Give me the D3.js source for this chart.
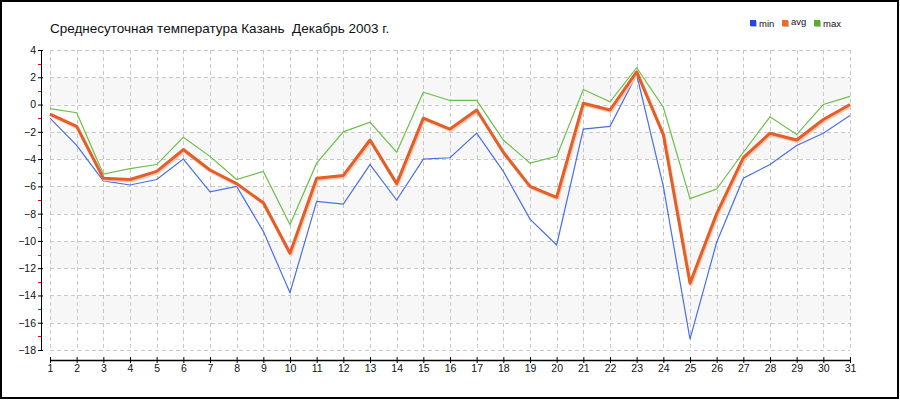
<!DOCTYPE html>
<html><head><meta charset="utf-8">
<script src="https://cdn.jsdelivr.net/npm/d3@7"></script>
<style>body{margin:0;background:#fff}svg{display:block}</style>
</head><body><svg id="c" width="900" height="400"></svg>
<script>
const days = d3.range(1, 32);
const minVals = [-1.0,-3.0,-5.6,-5.9,-5.5,-4.0,-6.4,-6.0,-9.3,-13.8,-7.1,-7.3,-4.4,-7.0,-4.0,-3.9,-2.1,-4.9,-8.4,-10.3,-1.8,-1.6,2.2,-6.0,-17.2,-10.1,-5.4,-4.4,-3.0,-2.1,-0.8];
const avgVals = [-0.7,-1.6,-5.4,-5.5,-4.9,-3.3,-4.8,-5.8,-7.2,-10.9,-5.4,-5.2,-2.6,-5.8,-1.0,-1.8,-0.4,-3.5,-6.0,-6.8,0.1,-0.4,2.4,-2.2,-13.1,-8.0,-3.9,-2.1,-2.6,-1.1,0.0];
const maxVals = [-0.3,-0.6,-5.1,-4.7,-4.4,-2.4,-3.8,-5.5,-4.9,-8.8,-4.3,-2.0,-1.3,-3.5,0.9,0.3,0.3,-2.6,-4.3,-3.8,1.1,0.2,2.7,-0.2,-6.9,-6.2,-3.5,-0.9,-2.2,0.0,0.6];
const yTicks = [4,2,0,-2,-4,-6,-8,-10,-12,-14,-16,-18];
const yMinorTicks = [3,1,-1,-3,-5,-7,-9,-11,-13,-15,-17];
const title = "Среднесуточная температура Казань  Декабрь 2003 г.";
const seriesNames = ["min","avg","max"];
const legendColors = ["#2348e0","#ee6a2c","#5aad2a"];

const svg = d3.select("#c");
const x = d3.scaleLinear().domain([1,31]).range([50,850]);
const y = d3.scaleLinear().domain([-18,4]).range([350,50]);

// border
svg.append("rect").attr("x",1).attr("y",1).attr("width",897).attr("height",397)
  .attr("fill","#fff").attr("stroke","#000").attr("stroke-width",2);

// bands
const bands = [[0,2],[-4,-2],[-8,-6],[-12,-10],[-16,-14]];
svg.append("g").selectAll("rect").data(bands).join("rect")
  .attr("x",x(1)).attr("width",x(31)-x(1))
  .attr("y",d=>y(d[1])).attr("height",d=>y(d[0])-y(d[1]))
  .attr("fill","#f7f7f7");

// grid
const grid = svg.append("g").attr("stroke","#c8c8c8").attr("stroke-dasharray","4,3").attr("shape-rendering","crispEdges");
grid.selectAll("line.h").data(yTicks).join("line").attr("class","h")
  .attr("x1",x(1)).attr("x2",x(31)).attr("y1",d=>Math.round(y(d))+0.5).attr("y2",d=>Math.round(y(d))+0.5);
grid.selectAll("line.v").data(days).join("line").attr("class","v")
  .attr("x1",d=>Math.round(x(d))+0.5).attr("x2",d=>Math.round(x(d))+0.5).attr("y1",y(4)).attr("y2",y(-18));

// y axis
const yAxis = svg.append("g").attr("transform","translate(41,0)")
  .call(d3.axisLeft(y).tickValues(yTicks).tickSize(3).tickFormat(d3.format("d")));
yAxis.select(".domain").attr("d", `M0.5,${y(4)}V${y(-18)}`).attr("stroke","#000");
yAxis.selectAll(".tick line").attr("x2",2).attr("x1",-3).attr("stroke","#000");
yAxis.selectAll(".tick text").attr("x",-5).attr("font-family","'Liberation Sans',Arial,sans-serif").attr("font-size",10.5).attr("fill","#111");
svg.append("g").selectAll("line").data(yMinorTicks).join("line")
  .attr("x1",38).attr("x2",41).attr("y1",d=>Math.round(y(d))+0.5).attr("y2",d=>Math.round(y(d))+0.5)
  .attr("stroke","#e00").attr("stroke-width",1);

// x axis
const xAxis = svg.append("g").attr("transform","translate(0,360)")
  .call(d3.axisBottom(x).tickValues(days).tickSize(3).tickFormat(d3.format("d")));
xAxis.select(".domain").attr("d", `M${x(1)},0.5H${x(31)}`).attr("stroke","#000").attr("stroke-width",1.5);
xAxis.selectAll(".tick line").attr("y1",-3).attr("y2",3).attr("stroke","#000");
xAxis.selectAll(".tick text").attr("y",5).attr("font-family","'Liberation Sans',Arial,sans-serif").attr("font-size",10.5).attr("fill","#111");

// lines
const line = d3.line().x((d,i)=>x(days[i])).y(d=>y(d));
svg.append("path").datum(minVals).attr("d",line).attr("fill","none").attr("stroke","#4a6ee8").attr("stroke-width",1.2);
svg.append("path").datum(maxVals).attr("d",line).attr("fill","none").attr("stroke","#6cbf48").attr("stroke-width",1.2);
svg.append("path").datum(avgVals).attr("d",line).attr("transform","translate(1,1.5)").attr("fill","none").attr("stroke","#f9c8b4").attr("stroke-width",3).attr("stroke-linejoin","round");
svg.append("path").datum(avgVals).attr("d",line).attr("fill","none").attr("stroke","#e45e27").attr("stroke-width",3).attr("stroke-linejoin","round");

// title
svg.append("text").attr("x",50).attr("y",33).text(title).style("white-space","pre")
  .attr("font-family","'Liberation Sans',Arial,sans-serif").attr("font-size",13.5).attr("fill","#111");

// legend
const legX = [750,782,814];
const lg = svg.append("g");
seriesNames.forEach((n,i)=>{
  lg.append("rect").attr("x",legX[i]+1).attr("y",21).attr("width",6).attr("height",6).attr("fill","#bbb");
  lg.append("rect").attr("x",legX[i]).attr("y",20).attr("width",6).attr("height",6).attr("fill",legendColors[i]);
  lg.append("text").attr("x",legX[i]+9).attr("y", n==="avg"?24.5:26.5).text(n)
    .attr("font-family","'Liberation Sans',Arial,sans-serif").attr("font-size",9.5).attr("fill","#111");
});
</script></body></html>
